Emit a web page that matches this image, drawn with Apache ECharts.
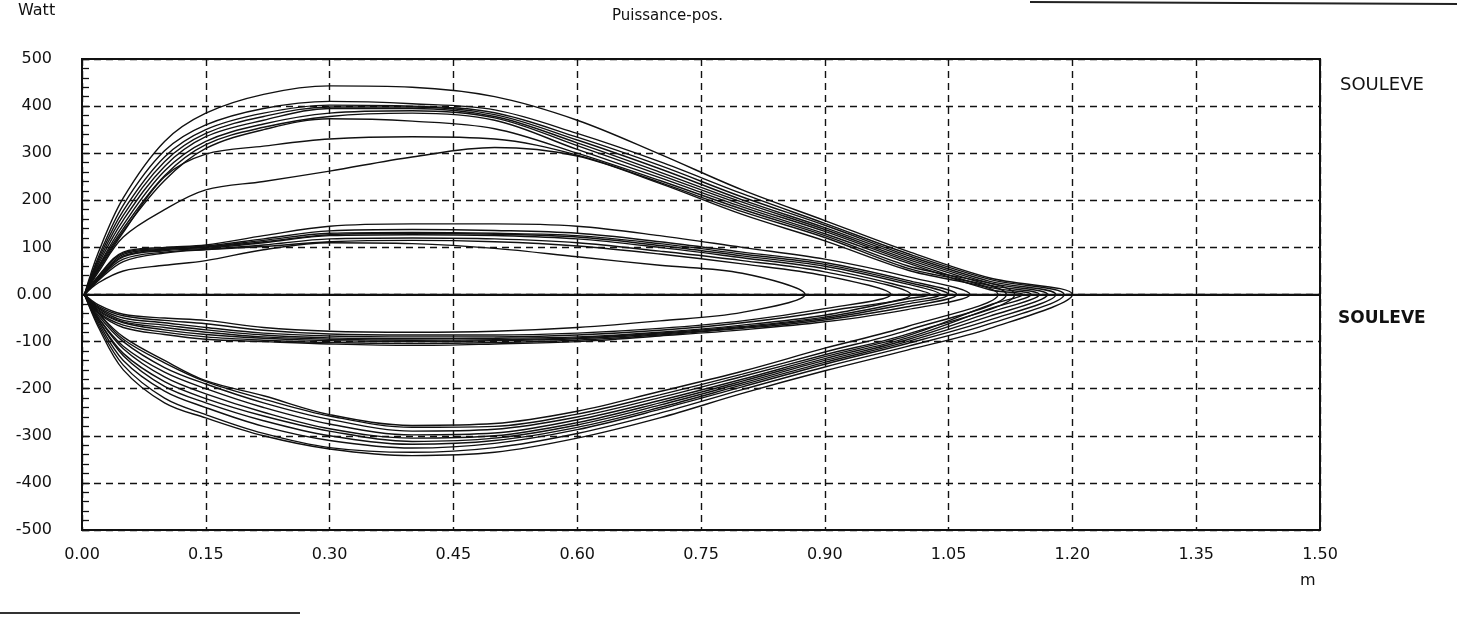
<!DOCTYPE html>
<html><head><meta charset="utf-8">
<script src="https://cdn.jsdelivr.net/npm/echarts@6/dist/echarts.min.js"></script>
<style>html,body{margin:0;padding:0;background:#fff}#c{width:1457px;height:619px}</style>
</head><body><div id="c"></div>
<script>
// ---- data ----
const xTickLabels = ['0.00','0.15','0.30','0.45','0.60','0.75','0.90','1.05','1.20','1.35','1.50'];
const yTickLabels = {'500':'500','400':'400','300':'300','200':'200','100':'100','0':'0.00','-100':'-100','-200':'-200','-300':'-300','-400':'-400','-500':'-500'};
const posGrid = [0.02,0.05,0.10,0.15,0.22,0.30,0.40,0.50,0.60,0.70,0.80,0.90,1.00,1.10];

const bigNoses = [1.20,1.19,1.18,1.17,1.16,1.15,1.14,1.13,1.12,1.11];
const bigUpper = [
  [90,205,325,385,425,443,440,420,370,298,222,157,92,35],
  [80,190,305,360,395,410,405,392,342,282,214,151,87,32],
  [75,178,292,350,385,402,400,386,334,274,207,147,83,28],
  [70,168,282,342,378,398,398,382,328,267,201,142,79,24],
  [65,158,272,335,370,395,395,378,322,260,196,138,75,20],
  [60,148,262,325,362,385,390,375,316,254,191,134,71,15],
  [58,140,252,318,355,378,385,370,308,248,186,129,67,10],
  [55,135,242,310,350,373,368,352,300,242,181,125,61],
  [52,132,250,298,315,330,335,330,296,238,176,121,56],
  [48,122,180,222,240,262,292,312,294,236,170,114,52]
];
const bigLower = [
  [-70,-160,-230,-262,-300,-328,-342,-335,-305,-262,-210,-162,-118,-72],
  [-65,-150,-220,-255,-295,-325,-335,-325,-295,-252,-202,-154,-110,-62],
  [-60,-140,-205,-240,-280,-310,-326,-316,-287,-244,-196,-148,-104,-54],
  [-55,-130,-195,-230,-268,-300,-318,-310,-282,-240,-192,-144,-100,-46],
  [-55,-125,-185,-221,-258,-290,-312,-305,-277,-235,-188,-140,-96,-38],
  [-50,-115,-175,-211,-250,-285,-305,-300,-272,-230,-184,-136,-92,-30],
  [-50,-110,-165,-200,-240,-275,-298,-294,-266,-225,-180,-132,-88,-22],
  [-45,-100,-155,-190,-230,-265,-290,-286,-260,-219,-174,-128,-84],
  [-40,-95,-145,-185,-222,-258,-282,-280,-254,-213,-169,-122,-76],
  [-40,-90,-140,-183,-215,-255,-278,-274,-248,-206,-163,-114,-68]
];

const smallNoses = [1.076,1.06,1.05,1.04,1.028,1.004,0.98,0.876];
const smallUpper = [
  [40,90,100,105,125,145,150,150,145,125,100,75,38],
  [38,88,98,103,118,135,138,136,130,112,90,68,30],
  [36,85,96,101,115,130,132,130,125,108,86,64,26],
  [35,82,95,100,112,127,130,128,122,104,82,60,22],
  [33,80,93,98,110,125,127,125,118,100,78,55,15],
  [32,75,90,96,105,118,120,118,110,92,72,48],
  [30,70,88,95,102,112,115,112,103,86,65,40],
  [25,50,62,72,95,110,108,98,80,62,45]
];
const smallLower = [
  [-40,-70,-85,-95,-100,-105,-108,-105,-100,-88,-75,-58,-32],
  [-38,-65,-80,-90,-97,-102,-104,-102,-97,-86,-72,-54,-26],
  [-35,-60,-75,-85,-93,-98,-100,-98,-94,-84,-70,-51,-20],
  [-33,-58,-70,-80,-90,-95,-97,-96,-92,-82,-68,-48,-15],
  [-30,-55,-65,-75,-86,-92,-94,-93,-90,-80,-65,-44,-9],
  [-28,-50,-60,-70,-82,-88,-90,-90,-86,-76,-60,-36],
  [-25,-45,-55,-62,-76,-84,-86,-86,-82,-72,-56,-30],
  [-22,-42,-50,-55,-70,-78,-80,-78,-70,-56,-38]
];
const zeroLine = [[0,0],[1.5,0]];

// ---- build loops ----
function loop(up, low, nose){
  const pts = [[0.003,0]];
  up.forEach((v,i)=>pts.push([posGrid[i], v]));
  pts.push([nose, 0]);
  for (let i = low.length-1; i >= 0; i--) pts.push([posGrid[i], low[i]]);
  pts.push([0.003,0]);
  return pts;
}
const lineStyle = {color:'#111', width:1.4};
const series = [];
bigNoses.forEach((n,i)=>series.push({type:'line', data:loop(bigUpper[i], bigLower[i], n), smooth:0.35, symbol:'none', lineStyle, silent:true}));
smallNoses.forEach((n,i)=>series.push({type:'line', data:loop(smallUpper[i], smallLower[i], n), smooth:0.35, symbol:'none', lineStyle, silent:true}));
series.push({type:'line', data:zeroLine, symbol:'none', lineStyle:{color:'#111', width:1.4}, silent:true});

const font = '"DejaVu Sans", Verdana, sans-serif';
const chart = echarts.init(document.getElementById('c'));
chart.setOption({
  animation:false,
  backgroundColor:'#fff',
  grid:{left:82, right:137, top:59, bottom:89, show:true, borderColor:'#111', borderWidth:2, backgroundColor:'transparent'},
  xAxis:{type:'value', min:0, max:1.5, interval:0.15,
    axisLine:{show:true, lineStyle:{color:'#111', width:2}},
    axisTick:{show:false},
    splitLine:{show:true, lineStyle:{color:'#111', type:[7,5], width:1.4}},
    axisLabel:{color:'#111', fontSize:16, fontFamily:font, margin:17,
      formatter:v=>xTickLabels[Math.round(v/0.15)]}
  },
  yAxis:{type:'value', min:-500, max:500, interval:100,
    axisLine:{show:true, lineStyle:{color:'#111', width:2}},
    axisTick:{show:true, inside:true, length:8, lineStyle:{color:'#111', width:1.3}},
    minorTick:{show:true, splitNumber:5, length:7, lineStyle:{color:'#111', width:1.3}},
    splitLine:{show:true, lineStyle:{color:'#111', type:[7,5], width:1.4}},
    axisLabel:{color:'#111', fontSize:16, fontFamily:font, margin:30,
      formatter:v=>yTickLabels[String(v)]}
  },
  graphic:[
    {type:'text', left:18, top:3, style:{text:'Watt', font:'16px '+font, fill:'#111'}},
    {type:'text', left:612, top:9, style:{text:'Puissance-pos.', font:'15px '+font, fill:'#111'}},
    {type:'text', left:1340, top:76, style:{text:'SOULEVE', font:'18px '+font, fill:'#111'}},
    {type:'text', left:1338, top:310, style:{text:'SOULEVE', font:'bold 17px '+font, fill:'#111'}},
    {type:'text', left:1300, top:573, style:{text:'m', font:'16px '+font, fill:'#111'}},
    {type:'line', shape:{x1:1030, y1:2, x2:1457, y2:4}, style:{stroke:'#222', lineWidth:2}},
    {type:'line', shape:{x1:0, y1:613, x2:300, y2:613}, style:{stroke:'#333', lineWidth:2}}
  ],
  series
});
</script></body></html>
